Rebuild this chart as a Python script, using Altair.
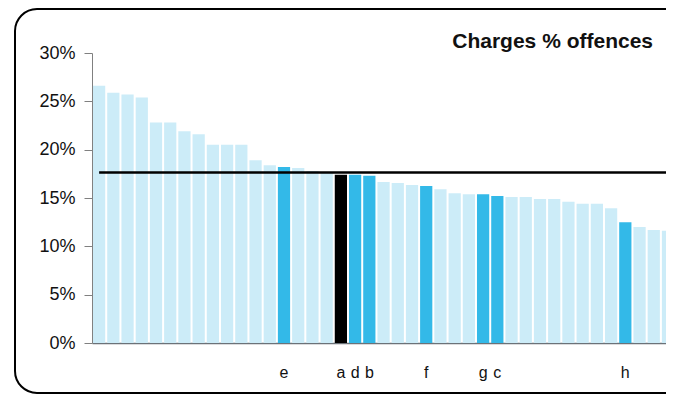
import altair as alt
import pandas as pd

# ---- data ----
values = [26.6, 25.9, 25.7, 25.4, 22.8, 22.8, 21.9, 21.6, 20.5, 20.5, 20.5,
          18.9, 18.4, 18.2, 18.1, 17.8, 17.7, 17.4, 17.4, 17.3, 16.65, 16.55,
          16.35, 16.25, 15.9, 15.5, 15.4, 15.4, 15.2, 15.1, 15.1, 14.9, 14.9,
          14.6, 14.4, 14.4, 13.95, 12.5, 12.0, 11.7, 11.6]
labels = [""] * 13 + ["e", "", "", "", "a", "d", "b", "", "", "", "f", "", "",
                      "", "g", "c", "", "", "", "", "", "", "", "", "h", "", "", ""]
groups = (["other"] * 13 + ["highlight"] + ["other"] * 3 + ["self", "highlight", "highlight"]
          + ["other"] * 3 + ["highlight"] + ["other"] * 3 + ["highlight", "highlight"]
          + ["other"] * 8 + ["highlight"] + ["other"] * 3)
average = 17.65
y_ticks = [0, 5, 10, 15, 20, 25, 30]
title_text = "Charges % offences"

df = pd.DataFrame({
    "idx": list(range(1, len(values) + 1)),
    "value": values,
    "label": labels,
    "group": groups,
})

FONT = "Liberation Sans"
W, H = 574, 290

xscale = alt.Scale(domain=[0.5, 40.86], nice=False, zero=False)
yscale = alt.Scale(domain=[0, 30], nice=False)

base = alt.Chart(df)

bars = base.transform_calculate(
    x0="datum.idx - 0.43", x1="datum.idx + 0.43"
).mark_bar(clip=True).encode(
    x=alt.X("x0:Q", scale=xscale,
            axis=alt.Axis(labels=False, ticks=False, title=None, grid=False,
                          domainColor="#6b7278", domainWidth=1.5)),
    x2="x1:Q",
    y=alt.Y("value:Q", scale=yscale,
            axis=alt.Axis(values=y_ticks, labelExpr="datum.value + '%'", title=None,
                          grid=False, tickSize=8, labelPadding=9, labelFontSize=18,
                          labelFont=FONT, labelColor="#111111",
                          domainColor="#808080", tickColor="#808080")),
    y2=alt.datum(0),
    color=alt.Color("group:N",
                    scale=alt.Scale(domain=["other", "highlight", "self"],
                                    range=["#CCECF8", "#33B9E8", "#000000"]),
                    legend=None),
)

rule = alt.Chart(alt.Data(values=[{"avg": average}])).mark_rule(
    color="black", strokeWidth=2.5, clip=True
).encode(
    x=alt.datum(1),
    x2=alt.datum(42),
    y=alt.Y("avg:Q"),
)

text = base.transform_filter("datum.label != ''").mark_text(
    font=FONT, fontSize=16, baseline="alphabetic", color="#111111"
).encode(
    x=alt.X("idx:Q"),
    y=alt.value(325),
    text="label:N",
)

title = alt.Chart(alt.Data(values=[{"t": title_text}])).mark_text(
    font=FONT, fontSize=21, fontWeight="bold", align="right", baseline="alphabetic",
    color="#111111", clip=False
).encode(
    x=alt.value(W - 13), y=alt.value(-5), text="t:N"
)

border = alt.Chart(alt.Data(values=[{}])).mark_rect(
    fillOpacity=0, stroke="black", strokeWidth=2, cornerRadius=22, clip=False
).encode(
    x=alt.value(-77), x2=alt.value(640), y=alt.value(-44), y2=alt.value(340)
)

chart = alt.layer(border, bars, rule, text, title).properties(
    width=W, height=H,
    autosize=alt.AutoSizeParams(type="none"),
    padding={"left": 84, "top": 45, "right": 0, "bottom": 51},
).configure_view(stroke=None)

chart.save("out.html", embed_options={"renderer": "svg", "actions": False})
